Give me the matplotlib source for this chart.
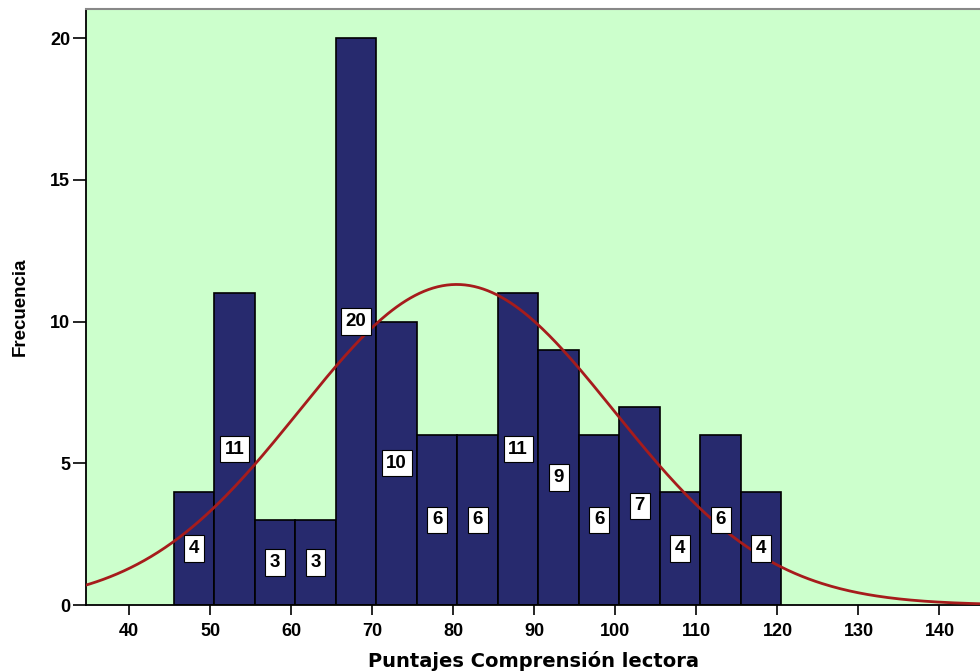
import numpy as np
import matplotlib.pyplot as plt

# datos del histograma (intervalos de 5 puntos)
bin_edges = [45.5, 50.5, 55.5, 60.5, 65.5, 70.5, 75.5, 80.5, 85.5, 90.5,
             95.5, 100.5, 105.5, 110.5, 115.5, 120.5]
counts = [4, 11, 3, 3, 20, 10, 6, 6, 11, 9, 6, 7, 4, 6, 4]
media = 80.4
desv = 19.4
n_total = sum(counts)
ancho = 5

plt.rcParams['font.family'] = ['Liberation Sans', 'DejaVu Sans']

fig = plt.figure(figsize=(9.8, 6.72), dpi=100)
ax = fig.add_axes([86 / 980, 1 - 605 / 672, 1 - 86 / 980, (605 - 9) / 672])
ax.set_facecolor('#CCFFCC')

left = np.array(bin_edges[:-1])
centros = left + ancho / 2
ax.bar(left, counts, width=ancho, align='edge', color='#272A6E',
       edgecolor='black', linewidth=1.2, zorder=2)

# etiquetas de frecuencia en el centro de cada barra
for xc, c in zip(centros, counts):
    ax.text(xc, c / 2, str(c), ha='center', va='center', fontsize=13.5,
            fontweight='bold', zorder=4,
            bbox=dict(boxstyle='square,pad=0.25', facecolor='white',
                      edgecolor='black', linewidth=0.8))

# curva normal
xs = np.linspace(34, 146, 400)
ys = n_total * ancho / (desv * np.sqrt(2 * np.pi)) * np.exp(-0.5 * ((xs - media) / desv) ** 2)
ax.plot(xs, ys, color='#A61C1C', linewidth=2, zorder=3)

ax.set_xlim(34.66, 145.0)
ax.set_ylim(0, 21.03)
ax.set_xticks(range(40, 141, 10))
ax.set_yticks([0, 5, 10, 15, 20])
ax.tick_params(axis='x', length=7, width=1.2, labelsize=13, pad=6)
ax.tick_params(axis='y', length=9.5, width=1.2, labelsize=13, pad=2)
for lab in ax.get_xticklabels() + ax.get_yticklabels():
    lab.set_fontweight('bold')

ax.spines['right'].set_visible(False)
ax.spines['top'].set_color('#888888')
ax.spines['top'].set_linewidth(1.5)
ax.spines['left'].set_linewidth(1.3)
ax.spines['bottom'].set_linewidth(1.3)

ax.set_xlabel('Puntajes Comprensión lectora', fontsize=14, fontweight='bold',
              family='DejaVu Sans', labelpad=8)
ax.set_ylabel('Frecuencia', fontsize=13.5, fontweight='bold', labelpad=15)

fig.savefig('out.png', dpi=100)
